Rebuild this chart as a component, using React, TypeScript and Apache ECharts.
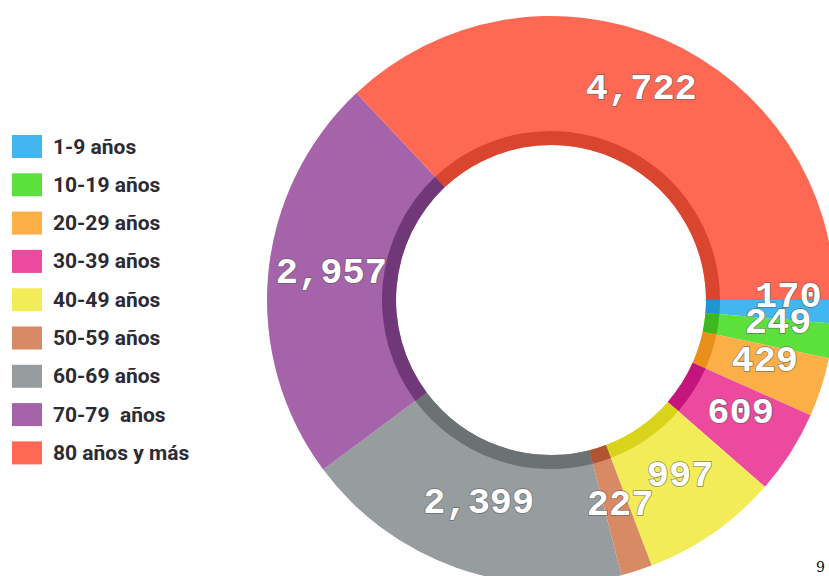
import React, { useEffect, useRef } from "react";
import * as echarts from "echarts";

const categories = [
  "1-9 años",
  "10-19 años",
  "20-29 años",
  "30-39 años",
  "40-49 años",
  "50-59 años",
  "60-69 años",
  "70-79  años",
  "80 años y más",
];
const values = [170, 249, 429, 609, 997, 227, 2399, 2957, 4722];
const colors = [
  "#42B7EF",
  "#5CE03C",
  "#FDAF47",
  "#EC4A9F",
  "#F2EC58",
  "#D78A64",
  "#979C9E",
  "#A563A9",
  "#FF6853",
];
const shadeColors = [
  "#1F96D0",
  "#3DB81E",
  "#E9901B",
  "#C3157B",
  "#D9D31C",
  "#B05431",
  "#6C7173",
  "#703878",
  "#DA4530",
];
const labelShift: Record<number, number[]> = { 0: [15, -12], 1: [7, -9] };

export default function App() {
  const ref = useRef<HTMLDivElement>(null);
  useEffect(() => {
    if (!ref.current) return;
    const chart = echarts.init(ref.current, null, { renderer: "svg" });
    const mainData = categories.map((name, i) => ({
      name,
      value: values[i],
      itemStyle: { color: colors[i] },
      label: { offset: labelShift[i] || [2, -7] },
    }));
    const bandData = categories.map((name, i) => ({
      name,
      value: values[i],
      itemStyle: { color: shadeColors[i] },
    }));
    chart.setOption({
      animation: false,
      backgroundColor: "#ffffff",
      legend: {
        orient: "vertical",
        left: 12,
        top: 135,
        padding: 0,
        itemWidth: 30,
        itemHeight: 23,
        itemGap: 15.3,
        icon: "rect",
        data: categories,
        selectedMode: false,
        textStyle: {
          color: "#2b2b36",
          fontSize: 21,
          fontFamily: "'Liberation Sans Narrow', 'Roboto', sans-serif",
          fontWeight: "bold",
          padding: [0, 0, 0, 6],
        },
      },
      graphic: [
        {
          type: "text",
          left: 816,
          top: 560,
          style: {
            text: "9",
            fill: "#111",
            font: "14px 'DejaVu Serif', serif",
          },
        },
      ],
      series: [
        {
          type: "pie",
          center: [551, 300],
          radius: [155, 284],
          startAngle: 0,
          clockwise: true,
          avoidLabelOverlap: false,
          labelLayout: { hideOverlap: false },
          data: mainData,
          silent: true,
          label: {
            show: true,
            position: "inside",
            formatter: (p: any) => Number(p.value).toLocaleString("en-US"),
            color: "#ffffff",
            fontFamily: "'Liberation Mono', monospace",
            fontWeight: "bold",
            fontSize: 37,
            textBorderColor: "rgba(90,90,90,0.7)",
            textBorderWidth: 1.5,
          },
          labelLine: { show: false },
          itemStyle: { borderWidth: 0 },
          z: 1,
        },
        {
          type: "pie",
          center: [551, 300],
          radius: [155, 169],
          startAngle: 0,
          clockwise: true,
          data: bandData,
          silent: true,
          legendHoverLink: false,
          label: { show: false },
          labelLine: { show: false },
          itemStyle: { borderWidth: 0 },
          z: 2,
        },
      ],
    });
    return () => chart.dispose();
  }, []);
  return (
    <div
      ref={ref}
      style={{ position: "fixed", left: 0, top: 0, width: 829, height: 576 }}
    />
  );
}
